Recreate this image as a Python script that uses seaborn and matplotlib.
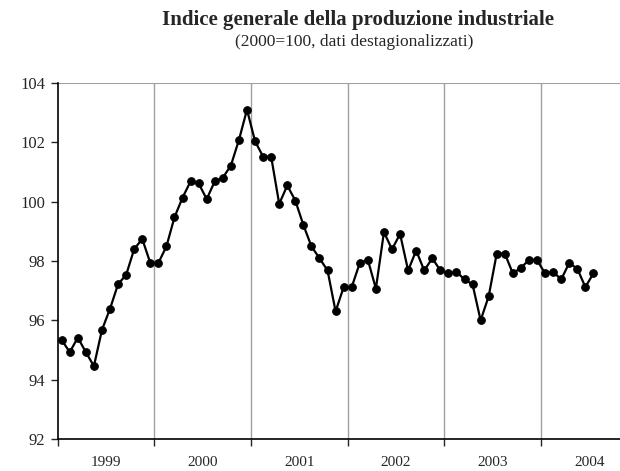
import numpy as np
import pandas as pd
import matplotlib
matplotlib.use('Agg')
import matplotlib.pyplot as plt
import seaborn as sns

# valori mensili (gen 1999 - lug 2004)
anni = ['1999', '2000', '2001', '2002', '2003', '2004']
v1999 = [95.34, 94.93, 95.42, 94.93, 94.46, 95.68, 96.39, 97.22, 97.53, 98.40, 98.74, 97.93]
v2000 = [97.93, 98.49, 99.47, 100.13, 100.68, 100.61, 100.08, 100.68, 100.80, 101.21, 102.07, 103.09]
v2001 = [102.03, 101.51, 101.51, 99.92, 100.54, 100.03, 99.21, 98.49, 98.09, 97.68, 96.30, 97.12]
v2002 = [97.12, 97.93, 98.04, 97.07, 98.97, 98.39, 98.91, 97.68, 98.35, 97.68, 98.09, 97.68]
v2003 = [97.58, 97.63, 97.38, 97.21, 96.00, 96.81, 98.25, 98.25, 97.58, 97.77, 98.03, 98.03]
v2004 = [97.58, 97.63, 97.38, 97.93, 97.74, 97.12, 97.58]

valori = v1999 + v2000 + v2001 + v2002 + v2003 + v2004
df = pd.DataFrame({'mese': np.arange(len(valori)) + 0.5, 'indice': valori})

sns.set_style('white')
plt.rcParams['font.family'] = ['Liberation Serif', 'DejaVu Serif']

fig = plt.figure(figsize=(6.2, 4.71), dpi=100)
ax = fig.add_axes([0.093, 0.0675, 0.907, 0.757])

# griglia verticale ai confini d'anno
for k in range(1, 6):
    ax.axvline(12 * k, color='#a0a0a0', lw=1, zorder=0)
ax.axhline(104, color='#a0a0a0', lw=1.5, zorder=0)

sns.lineplot(data=df, x='mese', y='indice', ax=ax, color='black', lw=1.6,
             marker='o', markersize=5.5, markeredgecolor='black')

ax.set_xlim(0, 69.8)
ax.set_ylim(92, 104)
ax.set_yticks(np.arange(92, 105, 2))
ax.set_xticks([12 * k for k in range(6)])
ax.set_xticklabels([])
ax.set_xticks([12 * k + 6 for k in range(6)], minor=True)
ax.set_xticklabels(anni, minor=True)
ax.tick_params(axis='x', which='major', length=5, width=1, direction='out', bottom=True)
ax.tick_params(axis='x', which='minor', length=0, pad=12, labelsize=11)
ax.tick_params(axis='y', length=5, width=1, direction='out', left=True, labelsize=12, pad=4)
ax.set_xlabel('')
ax.set_ylabel('')

for s in ['top', 'right']:
    ax.spines[s].set_visible(False)
for s in ['left', 'bottom']:
    ax.spines[s].set_color('black')
    ax.spines[s].set_linewidth(1.2)

fig.text(0.577, 0.957, 'Indice generale della produzione industriale',
         ha='center', va='center', fontsize=15, fontweight='bold')
fig.text(0.572, 0.91, '(2000=100, dati destagionalizzati)',
         ha='center', va='center', fontsize=12.5)

fig.savefig('out.png', dpi=100)
